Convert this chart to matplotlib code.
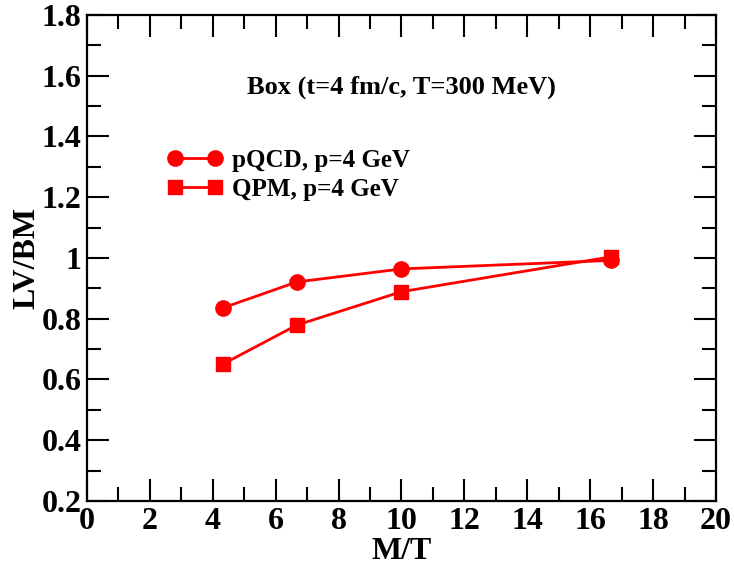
import matplotlib
matplotlib.use("Agg")
import matplotlib.pyplot as plt
from matplotlib.ticker import MultipleLocator

plt.rcParams['font.family'] = ['Liberation Serif', 'DejaVu Serif']
plt.rcParams['font.weight'] = 'bold'

# M/T for the four quark masses at T = 300 MeV
mt = [4.33, 6.67, 10.0, 16.67]
pqcd = [0.836, 0.921, 0.964, 0.992]
qpm = [0.651, 0.779, 0.889, 1.004]

fig = plt.figure(figsize=(7.34, 5.65), dpi=100)
ax = fig.add_axes([0.1185, 0.1133, 0.857, 0.8602])

ax.plot(mt, pqcd, color='red', lw=2.0, marker='o', ms=11, label='pQCD, p=4 GeV')
ax.plot(mt, qpm, color='red', lw=2.0, marker='s', ms=9.5, label='QPM, p=4 GeV')

ax.set_xlim(0, 20)
ax.set_ylim(0.2, 1.8)
ax.xaxis.set_major_locator(MultipleLocator(2))
ax.xaxis.set_minor_locator(MultipleLocator(1))
ax.yaxis.set_minor_locator(MultipleLocator(0.1))
ax.set_yticks([0.2, 0.4, 0.6, 0.8, 1.0, 1.2, 1.4, 1.6, 1.8])
ax.set_yticklabels(['0.2', '0.4', '0.6', '0.8', '1', '1.2', '1.4', '1.6', '1.8'])

ax.tick_params(which='both', direction='in', top=True, right=True, width=1.5, labelsize=23)
ax.tick_params(which='major', length=16, pad=4)
ax.tick_params(which='minor', length=10)
for s in ax.spines.values():
    s.set_linewidth(1.6)

ax.set_xlabel('M/T', fontsize=23, fontweight='bold', labelpad=1)
ax.set_ylabel('LV/BM', fontsize=23, fontweight='bold', labelpad=0)

ax.text(0.5, 0.852, 'Box (t=4 fm/c, T=300 MeV)', transform=ax.transAxes,
        fontsize=19, fontweight='bold', ha='center', va='center')

ax.legend(loc='upper left', bbox_to_anchor=(0.112, 0.745), frameon=False,
          numpoints=2, handlelength=2.2, handletextpad=0.38, labelspacing=0.25,
          fontsize=18, borderaxespad=0)

fig.savefig('out.png', dpi=100)
